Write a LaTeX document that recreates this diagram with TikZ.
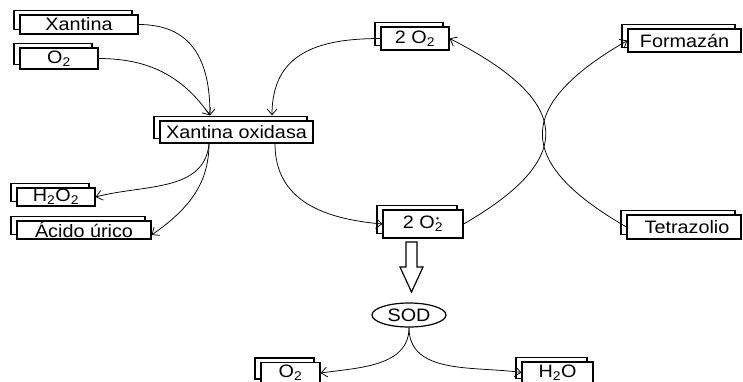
\documentclass[tikz,border=0pt]{standalone}
\usepackage{fontspec}
\newfontfamily\df[FakeStretch=1.1]{Liberation Sans}
\usetikzlibrary{arrows.meta,shadows,shapes.geometric,calc}
\begin{document}
\begin{tikzpicture}[x=1pt,y=1pt,
  box/.style={draw, fill=white, line width=1.2pt, inner sep=0pt, minimum width=#1,
    minimum height=21pt, font=\df\fontsize{18}{20}\selectfont,
    copy shadow={shadow xshift=-6pt, shadow yshift=4.5pt, draw=black, fill=white, line width=1.2pt}},
  arr/.style={line width=0.75pt, -{Straight Barb[length=6pt,width=10pt]}},
  hollow/.style={draw, line width=1.2pt, fill=white}]
\clip (0,0) rectangle (743,-381);
\fill[white] (0,0) rectangle (743,-381);

\node[box=118pt, minimum height=19pt] (xan) at (79,-24.5) {Xantina};
\node[box=78pt] (o2a) at (59,-58.5) {O\textsubscript{2}};
\node[box=153pt, minimum height=22pt] (xo) at (236.5,-132) {Xantina oxidasa};
\node[box=78pt, minimum height=18pt] (h2o2) at (56,-197) {H\textsubscript{2}O\textsubscript{2}};
\node[box=134pt, minimum height=18pt] (acido) at (84,-230) {Ácido úrico};
\node[box=68pt, minimum height=23pt] (o2t) at (415,-38.5) {2 O\textsubscript{2}};
\node[box=113pt, minimum height=23pt] (form) at (684.5,-40.5) {Formazán};
\node[box=114pt, minimum height=24pt] (tetra) at (684,-227) {\hspace{6pt}Tetrazolio};
\node[box=80pt, minimum height=28pt] (o2r) at (423,-224)
  {2 O\rlap{\raisebox{7.5pt}{\fontsize{8}{8}\selectfont\,•}}\textsubscript{2}};
\node[draw, ellipse, line width=1.2pt, inner sep=0pt, minimum width=74pt, minimum height=24pt,
  font=\df\fontsize{18}{20}\selectfont] (sod) at (409,-315) {SOD};
\node[box=59pt] (o2b) at (290.5,-373) {O\textsubscript{2}};
\node[box=71pt] (h2o) at (557.5,-372.5) {H\textsubscript{2}O};

\draw[arr] (xan.east) to[out=0,in=90,looseness=1.2] ([xshift=-26.5pt,yshift=5pt]xo.north);
\draw[arr] (o2a.east) to[out=0,in=125] ([xshift=-26.5pt,yshift=5pt]xo.north);
\draw[arr] (o2t.west) to[out=180,in=90,looseness=1.2] ([xshift=35.5pt,yshift=5pt]xo.north);
\draw[arr] ([xshift=38.5pt]xo.south) to[out=-90,in=175,looseness=1.1] (o2r.west);
\draw[arr] ([xshift=-27.5pt]xo.south) to[out=-95,in=15] (h2o2.east);
\draw[arr] ([xshift=-27.5pt]xo.south) to[out=-90,in=35] ([yshift=-5pt]acido.east);
\draw[arr] (o2r.east) .. controls +(30:130) and +(-27:140) .. (o2t.east);
\draw[arr] (tetra.west) .. controls +(150:130) and +(-150:130) .. (form.west);
\draw[arr] (sod.south) to[out=-90,in=8] (o2b.east);
\draw[arr] (sod.south) to[out=-90,in=172] (h2o.west);

\draw[hollow] (406,-242) -- (417,-242) -- (417,-267) -- (423,-267) -- (411.5,-292)
  -- (400,-267) -- (406,-267) -- cycle;
\end{tikzpicture}
\end{document}
